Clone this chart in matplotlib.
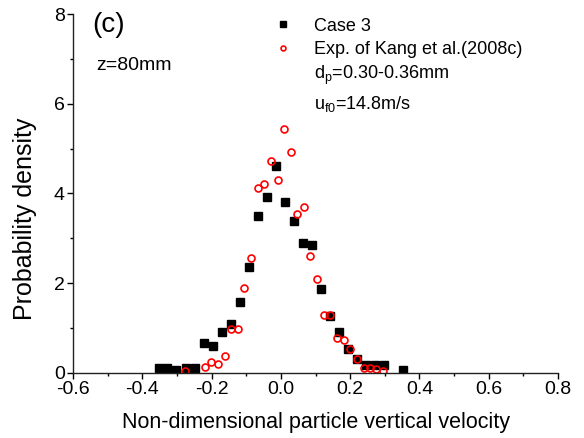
import matplotlib.pyplot as plt
from matplotlib.lines import Line2D

plt.rcParams['font.family'] = ['Liberation Sans', 'DejaVu Sans']
plt.rcParams['mathtext.fontset'] = 'custom'
plt.rcParams['mathtext.rm'] = 'Liberation Sans'
plt.rcParams['mathtext.it'] = 'Liberation Sans'
plt.rcParams['axes.unicode_minus'] = False

# Case 3 (simulation)
case3_x = [-0.353, -0.328, -0.302, -0.275, -0.248, -0.222, -0.196, -0.170, -0.143,
           -0.118, -0.092, -0.065, -0.039, -0.013, 0.013, 0.039, 0.065, 0.091,
           0.117, 0.143, 0.167, 0.195, 0.221, 0.247, 0.273, 0.299, 0.352]
case3_y = [0.11, 0.11, 0.06, 0.11, 0.11, 0.66, 0.59, 0.90, 1.08,
           1.57, 2.36, 3.50, 3.93, 4.60, 3.81, 3.39, 2.90, 2.84,
           1.87, 1.27, 0.90, 0.54, 0.30, 0.17, 0.17, 0.17, 0.07]

# Exp. of Kang et al. (2008c)
exp_x = [-0.276, -0.220, -0.201, -0.181, -0.162, -0.143, -0.124, -0.105, -0.086,
         -0.067, -0.048, -0.028, -0.009, 0.010, 0.029, 0.048, 0.068, 0.085,
         0.105, 0.125, 0.143, 0.162, 0.182, 0.201, 0.220, 0.239, 0.257, 0.276, 0.296]
exp_y = [0.04, 0.13, 0.23, 0.19, 0.38, 0.97, 0.97, 1.88, 2.56,
         4.13, 4.22, 4.73, 4.29, 5.44, 4.92, 3.53, 3.70, 2.60,
         2.08, 1.29, 1.29, 0.77, 0.73, 0.54, 0.30, 0.11, 0.11, 0.08, 0.04]

fig = plt.figure(figsize=(5.84, 4.38), dpi=100)
ax = fig.add_axes([0.125, 0.149, 0.8305, 0.819])

ax.plot(case3_x, case3_y, linestyle='none', marker='s', markersize=6.4,
        color='black', label='Case 3')
ax.plot(exp_x, exp_y, linestyle='none', marker='o', markersize=5,
        markerfacecolor='none', markeredgecolor='red', markeredgewidth=1.2,
        label='Exp. of Kang et al.(2008c)')

ax.set_xlim(-0.6, 0.8)
ax.set_ylim(0, 8)
ax.set_xticks([-0.6, -0.4, -0.2, 0.0, 0.2, 0.4, 0.6, 0.8])
ax.set_xticks([-0.5, -0.3, -0.1, 0.1, 0.3, 0.5, 0.7], minor=True)
ax.set_yticks([0, 2, 4, 6, 8])
ax.set_yticks([1, 3, 5, 7], minor=True)
ax.set_xticklabels(['-0.6', '-0.4', '-0.2', '0.0', '0.2', '0.4', '0.6', '0.8'])

for side in ['top', 'right']:
    ax.spines[side].set_visible(False)
for side in ['left', 'bottom']:
    ax.spines[side].set_linewidth(1.0)
    ax.spines[side].set_color('#222222')

ax.tick_params(which='major', direction='out', length=4, width=1, labelsize=14, pad=2)
ax.tick_params(which='minor', direction='out', length=2.5, width=1)

ax.set_xlabel('Non-dimensional particle vertical velocity', fontsize=15.5, labelpad=10)
ax.set_ylabel('Probability density', fontsize=18)
ax.yaxis.set_label_coords(-0.075, 0.43)

ax.text(-0.545, 7.75, '(c)', fontsize=20, va='center', ha='left')
ax.text(-0.532, 6.86, 'z=80mm', fontsize=14, va='center', ha='left')

handles, labels = ax.get_legend_handles_labels()
blank = Line2D([], [], linestyle='none', marker='none')
handles += [blank, blank]
labels += [r'd$_\mathrm{p}$=0.30-0.36mm', r'u$_\mathrm{f0}$=14.8m/s']
ax.legend(handles, labels, loc='upper left', bbox_to_anchor=(0.40, 1.01),
          frameon=False, fontsize=13, markerscale=0.7, handlelength=1.0,
          handletextpad=1.2, labelspacing=0.35, borderaxespad=0)

fig.savefig('out.png', dpi=100)
